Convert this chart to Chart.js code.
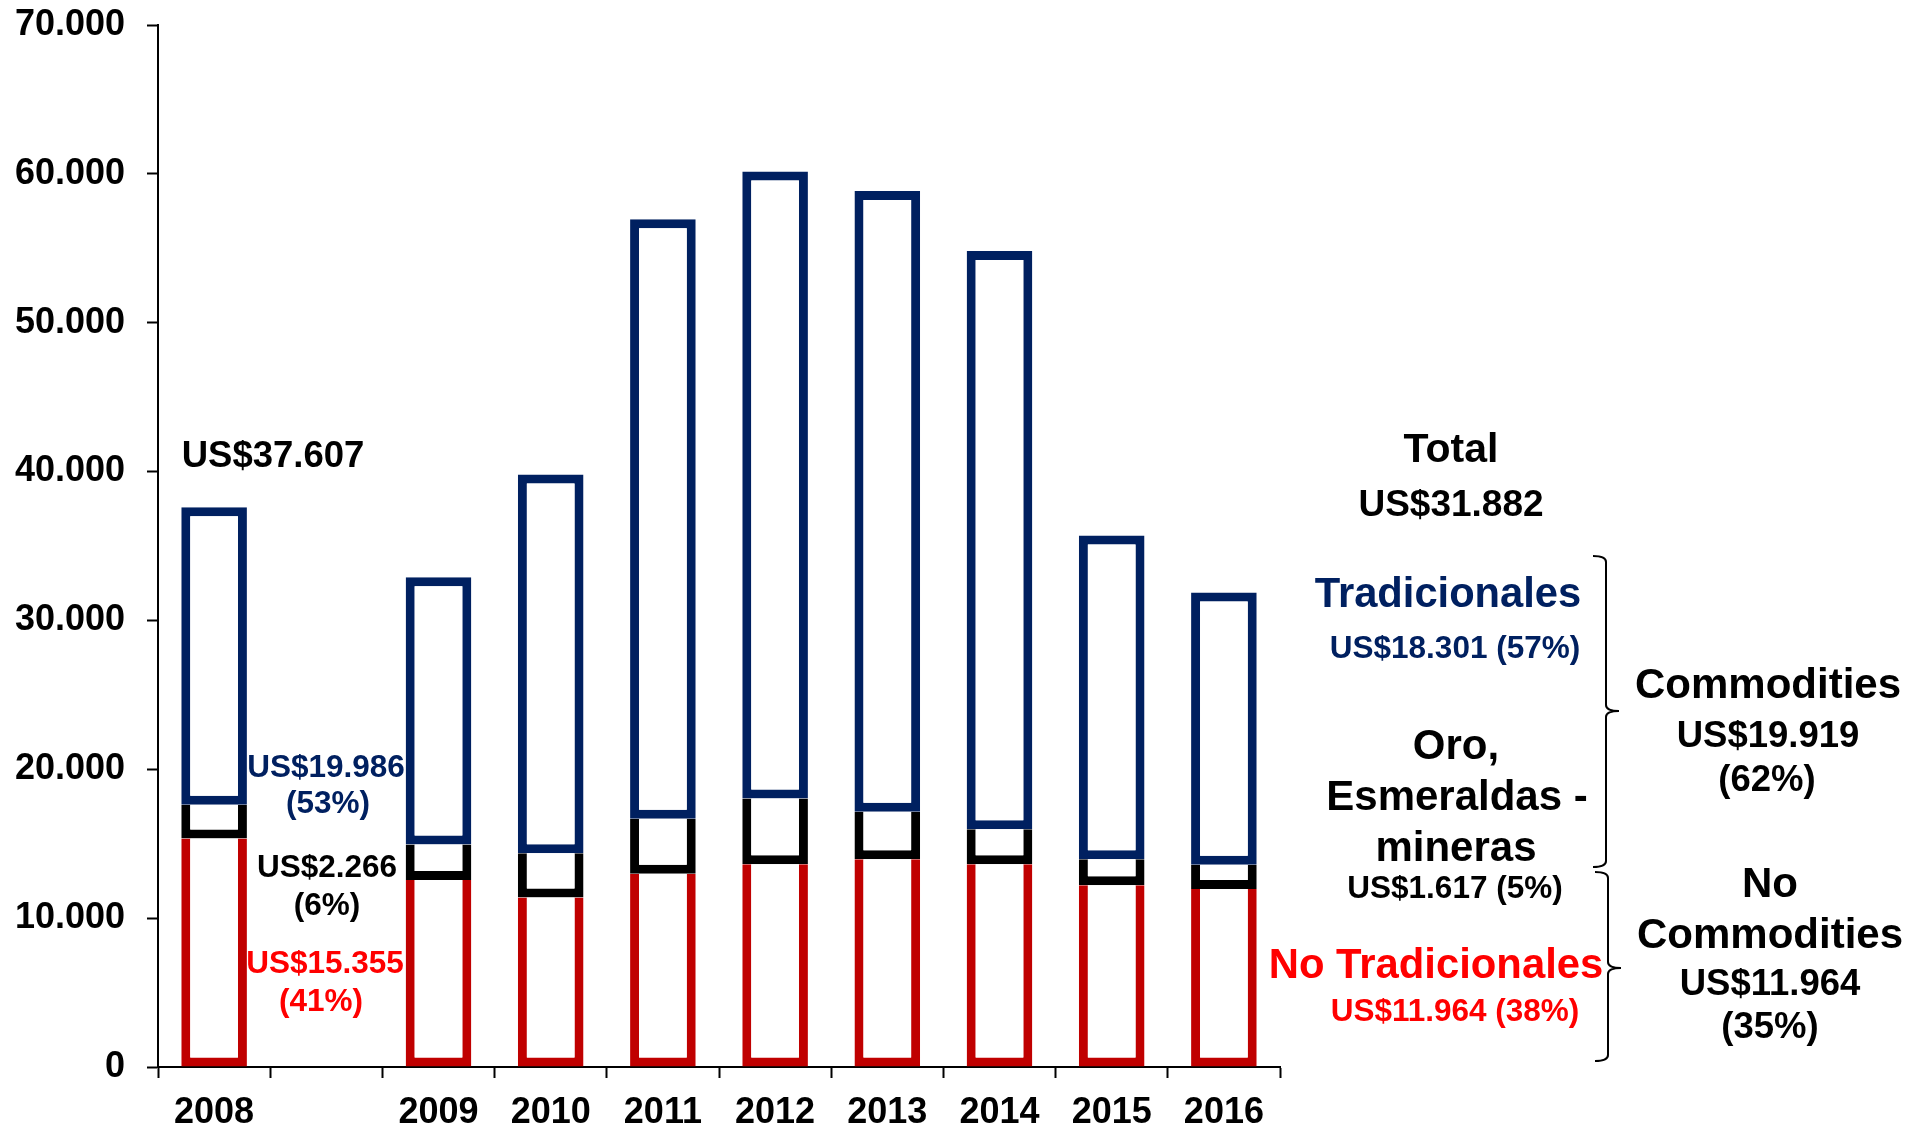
<!DOCTYPE html>
<html>
<head>
<meta charset="utf-8">
<script src="https://cdn.jsdelivr.net/npm/chart.js@4.4.1/dist/chart.umd.min.js"></script>
<style>
  html, body { margin: 0; padding: 0; background: #ffffff; }
  #wrap { width: 1915px; height: 1127px; position: relative; }
  canvas { display: block; }
</style>
</head>
<body>
<div id="wrap"><canvas id="c" width="1915" height="1127"></canvas></div>
<script>
// ---- data ----
const categories = ['2008', '', '2009', '2010', '2011', '2012', '2013', '2014', '2015', '2016'];
const noTradicionales = [15355, null, 12570, 11380, 12980, 13620, 13960, 13620, 12210, 11964];
const oroEsmeraldas   = [2266,  null, 2370,  2980,  3700,  4410,  3180,  2350,  1750,  1617];
const tradicionales   = [19986, null, 17960, 25440, 40270, 42120, 41700, 38850, 21740, 18301];
const yTickValues = [0, 10000, 20000, 30000, 40000, 50000, 60000, 70000];

const NAVY = '#002060';
const DARKRED = '#C00000';
const RED = '#FF0000';
const FONT = '"Liberation Sans", Arial, Helvetica, sans-serif';

function fmtThousands(v) {
  return String(v).replace(/\B(?=(\d{3})+(?!\d))/g, '.');
}

// text annotations: [text, x, baselineY, color, sizePx]
const notes = [
  ['US$37.607', 273, 467, '#000', 36.5],
  ['US$19.986', 326, 777, NAVY, 31.5],
  ['(53%)', 328, 813, NAVY, 31.5],
  ['US$2.266', 327, 877, '#000', 31.5],
  ['(6%)', 327, 915, '#000', 31.5],
  ['US$15.355', 325, 973, RED, 31.5],
  ['(41%)', 321, 1011, RED, 31.5],
  ['Total', 1451, 462, '#000', 41],
  ['US$31.882', 1451, 516, '#000', 37],
  ['Tradicionales', 1448, 607, NAVY, 41.7],
  ['US$18.301 (57%)', 1455, 658, NAVY, 31.5],
  ['Oro,', 1456, 759, '#000', 42],
  ['Esmeraldas -', 1457, 810, '#000', 42],
  ['mineras', 1456, 861, '#000', 42],
  ['US$1.617 (5%)', 1455, 898, '#000', 31.5],
  ['No Tradicionales', 1436, 978, RED, 41.8],
  ['US$11.964 (38%)', 1455, 1021, RED, 31.5],
  ['Commodities', 1768, 698, '#000', 42],
  ['US$19.919', 1768, 747, '#000', 36.5],
  ['(62%)', 1767, 791, '#000', 36.5],
  ['No', 1770, 897, '#000', 42],
  ['Commodities', 1770, 948, '#000', 42],
  ['US$11.964', 1770, 995, '#000', 36.5],
  ['(35%)', 1770, 1038, '#000', 36.5]
];
// braces: [xLine, yTop, yMid, yBottom]
const braces = [
  [1606, 556, 711, 867],
  [1608, 872, 968, 1061]
];

const annotationPlugin = {
  id: 'annotations',
  afterDraw(chart) {
    const ctx = chart.ctx;
    ctx.save();
    ctx.textAlign = 'center';
    ctx.textBaseline = 'alphabetic';
    notes.forEach(n => {
      ctx.font = 'bold ' + n[4] + 'px ' + FONT;
      ctx.fillStyle = n[3];
      ctx.fillText(n[0], n[1], n[2]);
    });
    ctx.strokeStyle = '#000';
    ctx.lineWidth = 2;
    braces.forEach(b => {
      const [x, y1, ym, y2] = b;
      const h = 13, r = 6;
      ctx.beginPath();
      ctx.moveTo(x - h, y1);
      ctx.quadraticCurveTo(x, y1, x, y1 + r);
      ctx.lineTo(x, ym - r);
      ctx.quadraticCurveTo(x, ym, x + h, ym);
      ctx.quadraticCurveTo(x, ym, x, ym + r);
      ctx.lineTo(x, y2 - r);
      ctx.quadraticCurveTo(x, y2, x - h, y2);
      ctx.stroke();
    });
    ctx.restore();
  }
};

const barCommon = {
  backgroundColor: '#ffffff',
  borderSkipped: false,
  barPercentage: 0.585,
  categoryPercentage: 1.0,
  stack: 's'
};

new Chart(document.getElementById('c'), {
  type: 'bar',
  data: {
    labels: categories,
    datasets: [
      Object.assign({}, barCommon, {
        label: 'No Tradicionales',
        data: noTradicionales,
        borderColor: DARKRED,
        borderWidth: { top: 0, left: 9, right: 9, bottom: 9 }
      }),
      Object.assign({}, barCommon, {
        label: 'Oro, Esmeraldas - mineras',
        data: oroEsmeraldas,
        borderColor: '#000000',
        borderWidth: { top: 0, left: 9, right: 9, bottom: 9 }
      }),
      Object.assign({}, barCommon, {
        label: 'Tradicionales',
        data: tradicionales,
        borderColor: NAVY,
        borderWidth: { top: 9, left: 9, right: 9, bottom: 9 }
      })
    ]
  },
  options: {
    responsive: false,
    animation: false,
    layout: { padding: { top: 25, right: 635, bottom: 0, left: 0 } },
    plugins: {
      legend: { display: false },
      tooltip: { enabled: false }
    },
    scales: {
      x: {
        stacked: true,
        afterFit(scale) {
          scale.height = 60;
          scale.paddingLeft = 0;
          scale.paddingRight = 0;
        },
        grid: {
          display: true,
          offset: true,
          drawOnChartArea: false,
          drawTicks: true,
          tickLength: 11,
          tickWidth: 2,
          tickColor: '#000'
        },
        border: { display: true, color: '#000', width: 2 },
        ticks: {
          color: '#000',
          padding: 17,
          maxRotation: 0,
          autoSkip: false,
          font: { family: FONT, size: 36, weight: 'bold', lineHeight: 1 }
        }
      },
      y: {
        stacked: true,
        min: 0,
        max: 70000,
        afterBuildTicks(scale) {
          scale.ticks = yTickValues.map(v => ({ value: v }));
        },
        afterFit(scale) {
          scale.width = 158;
          scale.paddingTop = 0;
          scale.paddingBottom = 0;
        },
        grid: {
          display: true,
          drawOnChartArea: false,
          drawTicks: true,
          tickLength: 11,
          tickWidth: 2,
          tickColor: '#000'
        },
        border: { display: true, color: '#000', width: 2 },
        ticks: {
          color: '#000',
          padding: 22,
          callback: (v) => fmtThousands(v),
          font: { family: FONT, size: 36, weight: 'bold', lineHeight: 1.2 }
        }
      }
    }
  },
  plugins: [annotationPlugin]
});
</script>
</body>
</html>
